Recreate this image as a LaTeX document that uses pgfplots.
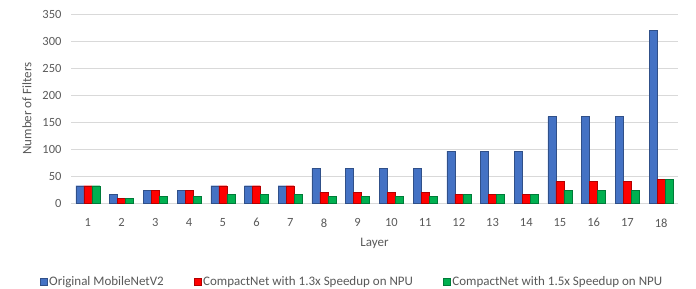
\documentclass[border=0pt]{standalone}
\usepackage{fontspec}
\setmainfont{Carlito}
\usepackage{pgfplots}
\pgfplotsset{compat=1.18}
\definecolor{cblue}{HTML}{4472C4}
\definecolor{cred}{HTML}{FF0000}
\definecolor{cgreen}{HTML}{00B050}
\definecolor{gridc}{HTML}{D9D9D9}
\definecolor{txt}{HTML}{595959}
\begin{document}
\begin{tikzpicture}[x=1pt,y=1pt]
\useasboundingbox (0,0) rectangle (696,289);
\begin{axis}[
  at={(71pt,86pt)}, anchor=south west,
  scale only axis, width=607pt, height=189pt,
  xmin=0.5, xmax=18.5, ymin=0, ymax=350,
  ytick={0,50,...,350},
  xtick={1,...,18},
  ybar=0pt, bar width=8pt,
  axis line style={draw=none},
  ymajorgrids, grid style={gridc, line width=0.9pt},
  major tick length=0pt,
  tick label style={font=\fontsize{12.5}{14}\selectfont, text=txt},
  /pgf/number format/assume math mode=true,
  yticklabel style={xshift=-6pt},
  xticklabel style={yshift=-12pt},
  xlabel={Layer}, ylabel={Number of Filters},
  label style={font=\fontsize{13}{15}\selectfont, text=txt},
  xlabel style={yshift=-4pt},
  ylabel style={yshift=4pt},
  legend style={at={(0.463,-0.418)}, anchor=center, draw=none,
    font=\fontsize{13}{15}\selectfont, text=txt,
    /tikz/every even column/.append style={column sep=28pt}},
  legend columns=3,
  legend image code/.code={\fill[#1] (0pt,-3.5pt) rectangle (7pt,3.5pt);},
]
\addplot[fill=cblue, draw=cblue!70!black] coordinates {(1,32)(2,16)(3,24)(4,24)(5,32)(6,32)(7,32)(8,64)(9,64)(10,64)(11,64)(12,96)(13,96)(14,96)(15,160)(16,160)(17,160)(18,320)};
\addplot[fill=cred, draw=cred!70!black] coordinates {(1,32)(2,8)(3,24)(4,24)(5,32)(6,32)(7,32)(8,20)(9,20)(10,20)(11,20)(12,16)(13,16)(14,16)(15,40)(16,40)(17,40)(18,44)};
\addplot[fill=cgreen, draw=cgreen!70!black] coordinates {(1,32)(2,8)(3,12)(4,12)(5,16)(6,16)(7,16)(8,12)(9,12)(10,12)(11,12)(12,16)(13,16)(14,16)(15,24)(16,24)(17,24)(18,44)};
\legend{Original MobileNetV2, CompactNet with 1.3x Speedup on NPU, CompactNet with 1.5x Speedup on NPU}
\end{axis}
\end{tikzpicture}
\end{document}
